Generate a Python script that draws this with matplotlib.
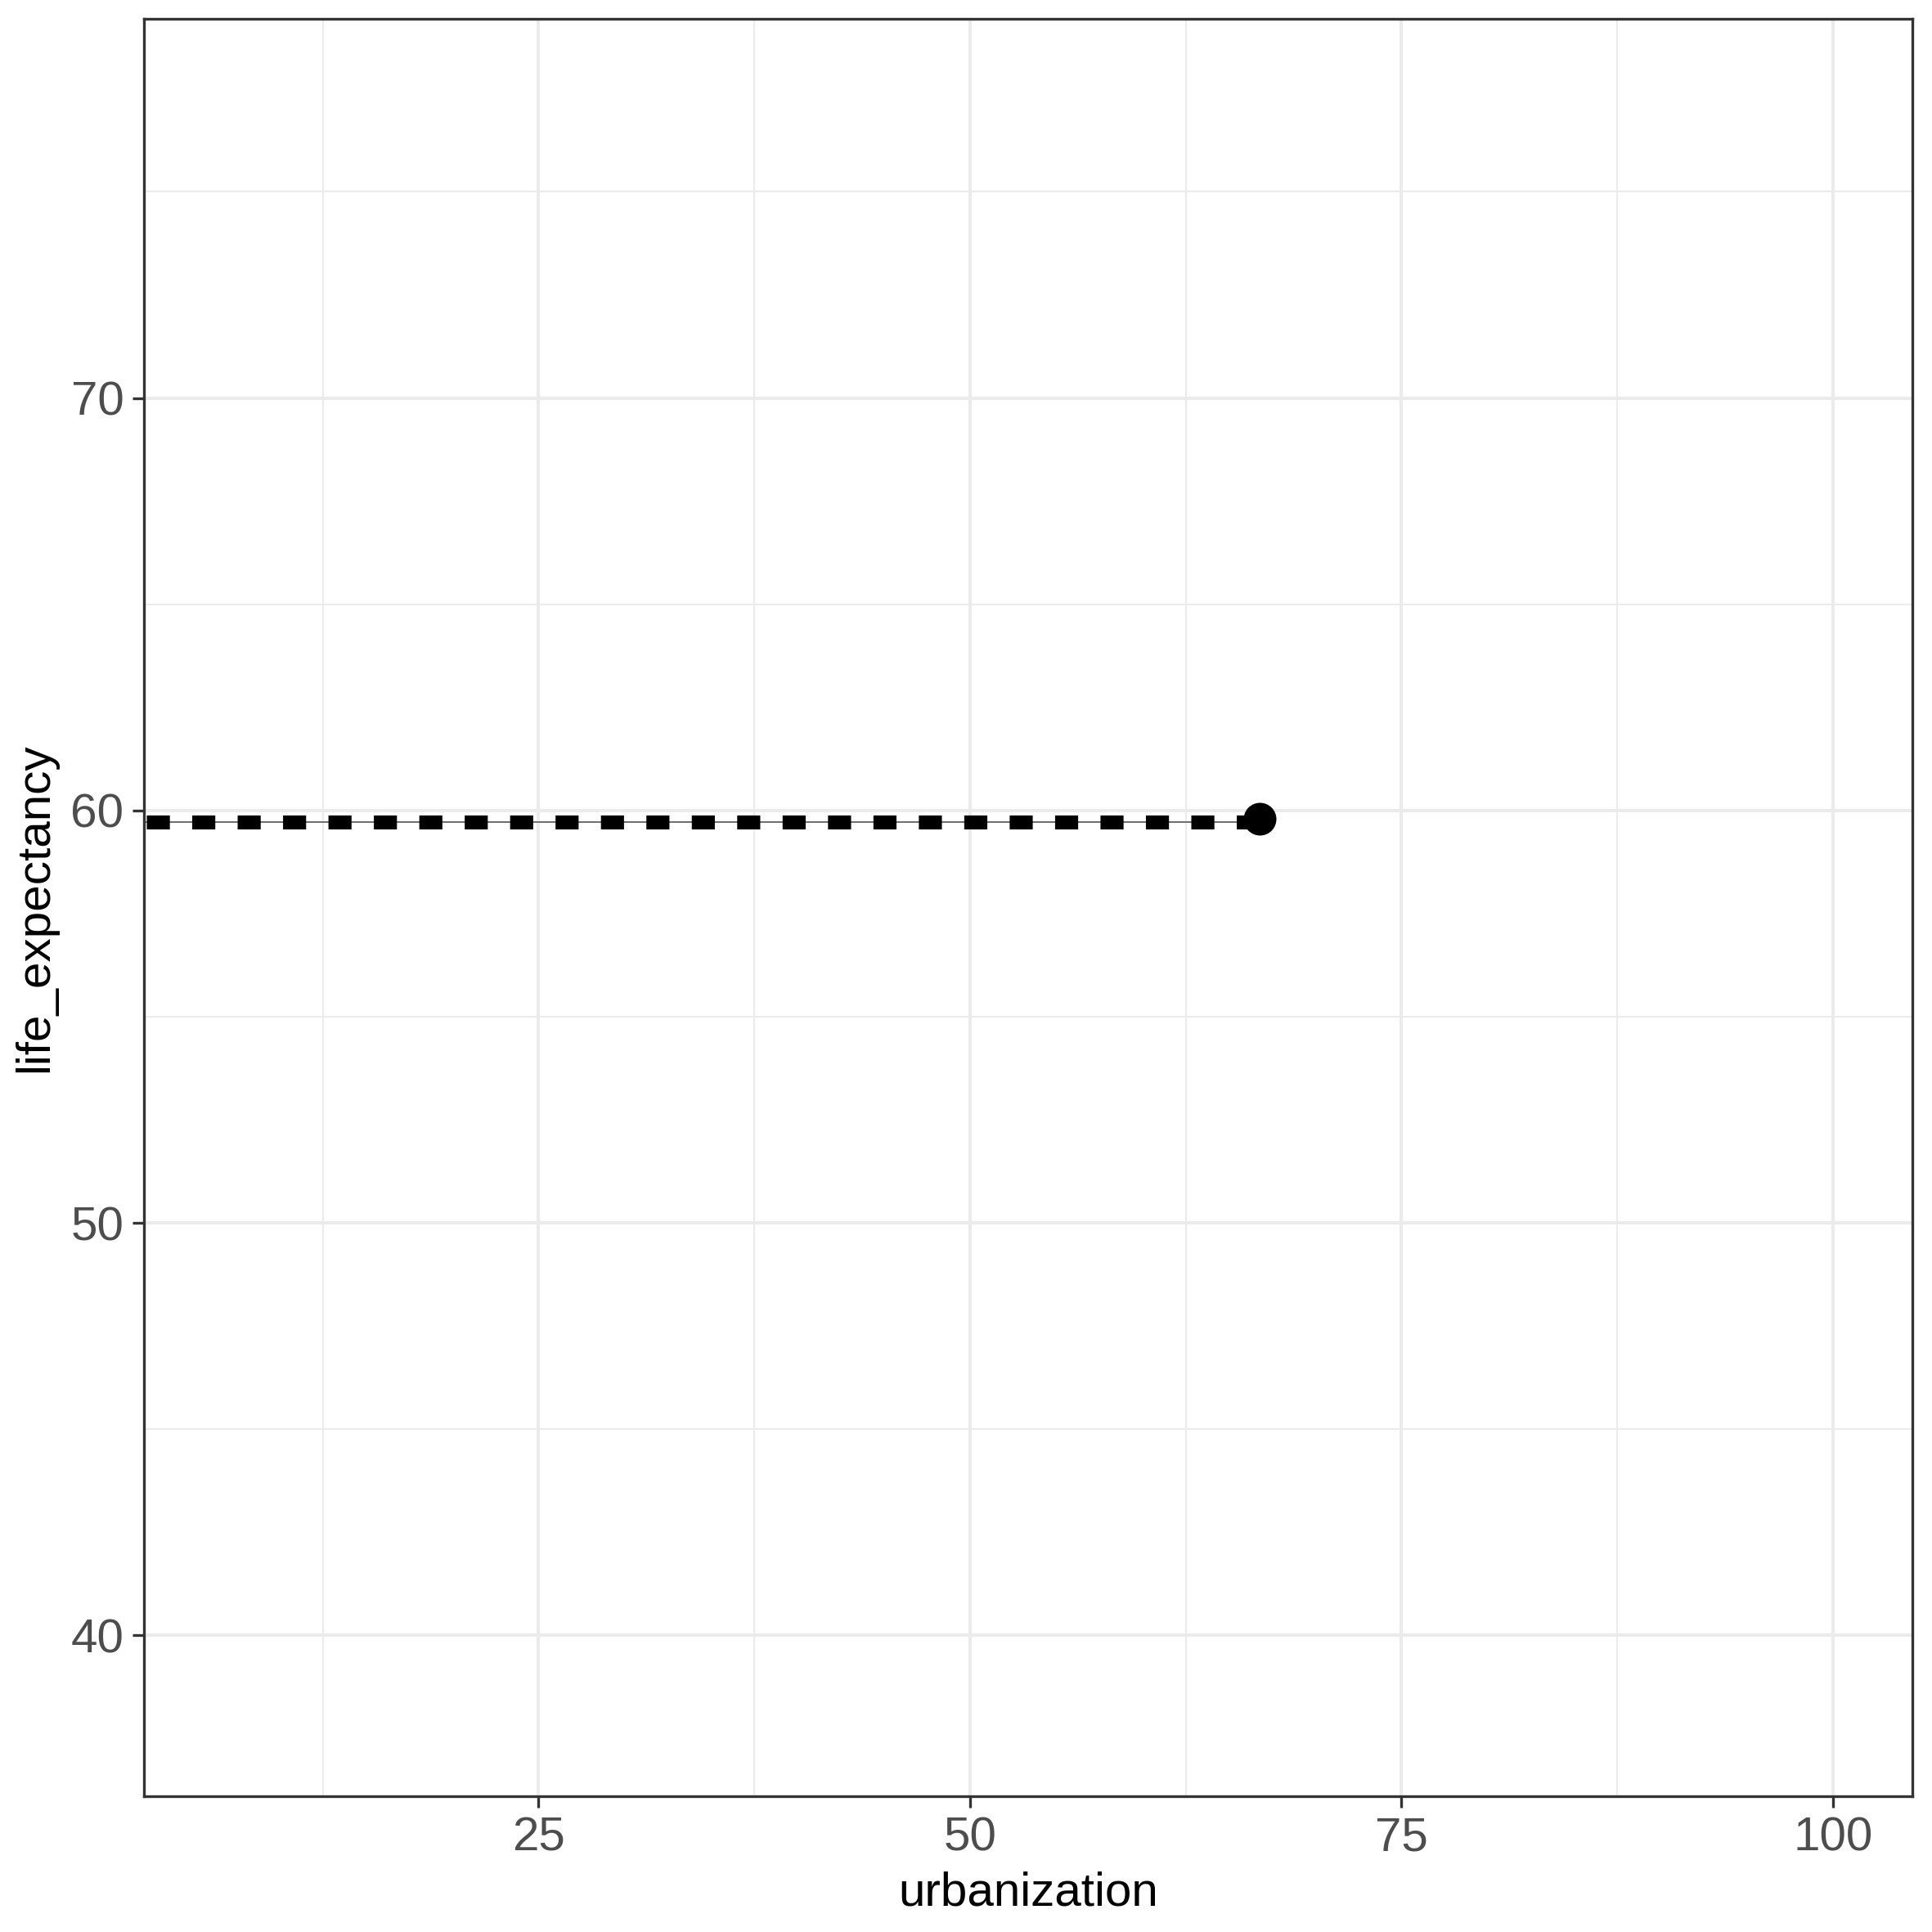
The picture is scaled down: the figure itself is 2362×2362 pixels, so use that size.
import matplotlib
matplotlib.use("Agg")
import matplotlib.pyplot as plt

# data
line_x = [2.3, 66.8]
line_y = [59.72, 59.72]
point_x = [66.8]
point_y = [59.8]

x_ticks = [25, 50, 75, 100]
y_ticks = [40, 50, 60, 70]
x_minor = [12.5, 37.5, 62.5, 87.5]
y_minor = [45, 55, 65, 75]

plt.rcParams['font.family'] = ['Liberation Sans', 'DejaVu Sans']

fig = plt.figure(figsize=(2362 / 300, 2362 / 300), dpi=300)
ax = fig.add_axes([0.0745, 0.0703, 0.9153, 0.9201])

grid_col = '#EBEBEB'
for v in x_minor:
    ax.axvline(v, color=grid_col, lw=0.5, zorder=0)
for v in y_minor:
    ax.axhline(v, color=grid_col, lw=0.5, zorder=0)
for v in x_ticks:
    ax.axvline(v, color=grid_col, lw=1.0, zorder=0)
for v in y_ticks:
    ax.axhline(v, color=grid_col, lw=1.0, zorder=0)

# thin line under the dashed one
ax.plot(line_x, line_y, color='#666666', lw=0.45, zorder=2)
dashed, = ax.plot(line_x, line_y, color='black', lw=4.1, zorder=3,
                  solid_capstyle='butt', dash_capstyle='butt')
dashed.set_dashes((1.65, 1.6))
ax.plot(point_x, point_y, 'o', color='black', markersize=9.6, zorder=4,
        markeredgewidth=0)

ax.set_xlim(2.14, 104.6)
ax.set_ylim(36.1, 79.2)
ax.set_xticks(x_ticks)
ax.set_yticks(y_ticks)

for s in ax.spines.values():
    s.set_color('#333333')
    s.set_linewidth(0.8)

ax.tick_params(axis='both', colors='#333333', width=0.8, length=3.4,
               labelsize=14, labelcolor='#4D4D4D', pad=2.5)

ax.set_xlabel('urbanization', fontsize=14, color='black', labelpad=3)
ax.set_ylabel('life_expectancy', fontsize=14, color='black', labelpad=4)

fig.savefig('out.png', dpi=300, facecolor='white')
